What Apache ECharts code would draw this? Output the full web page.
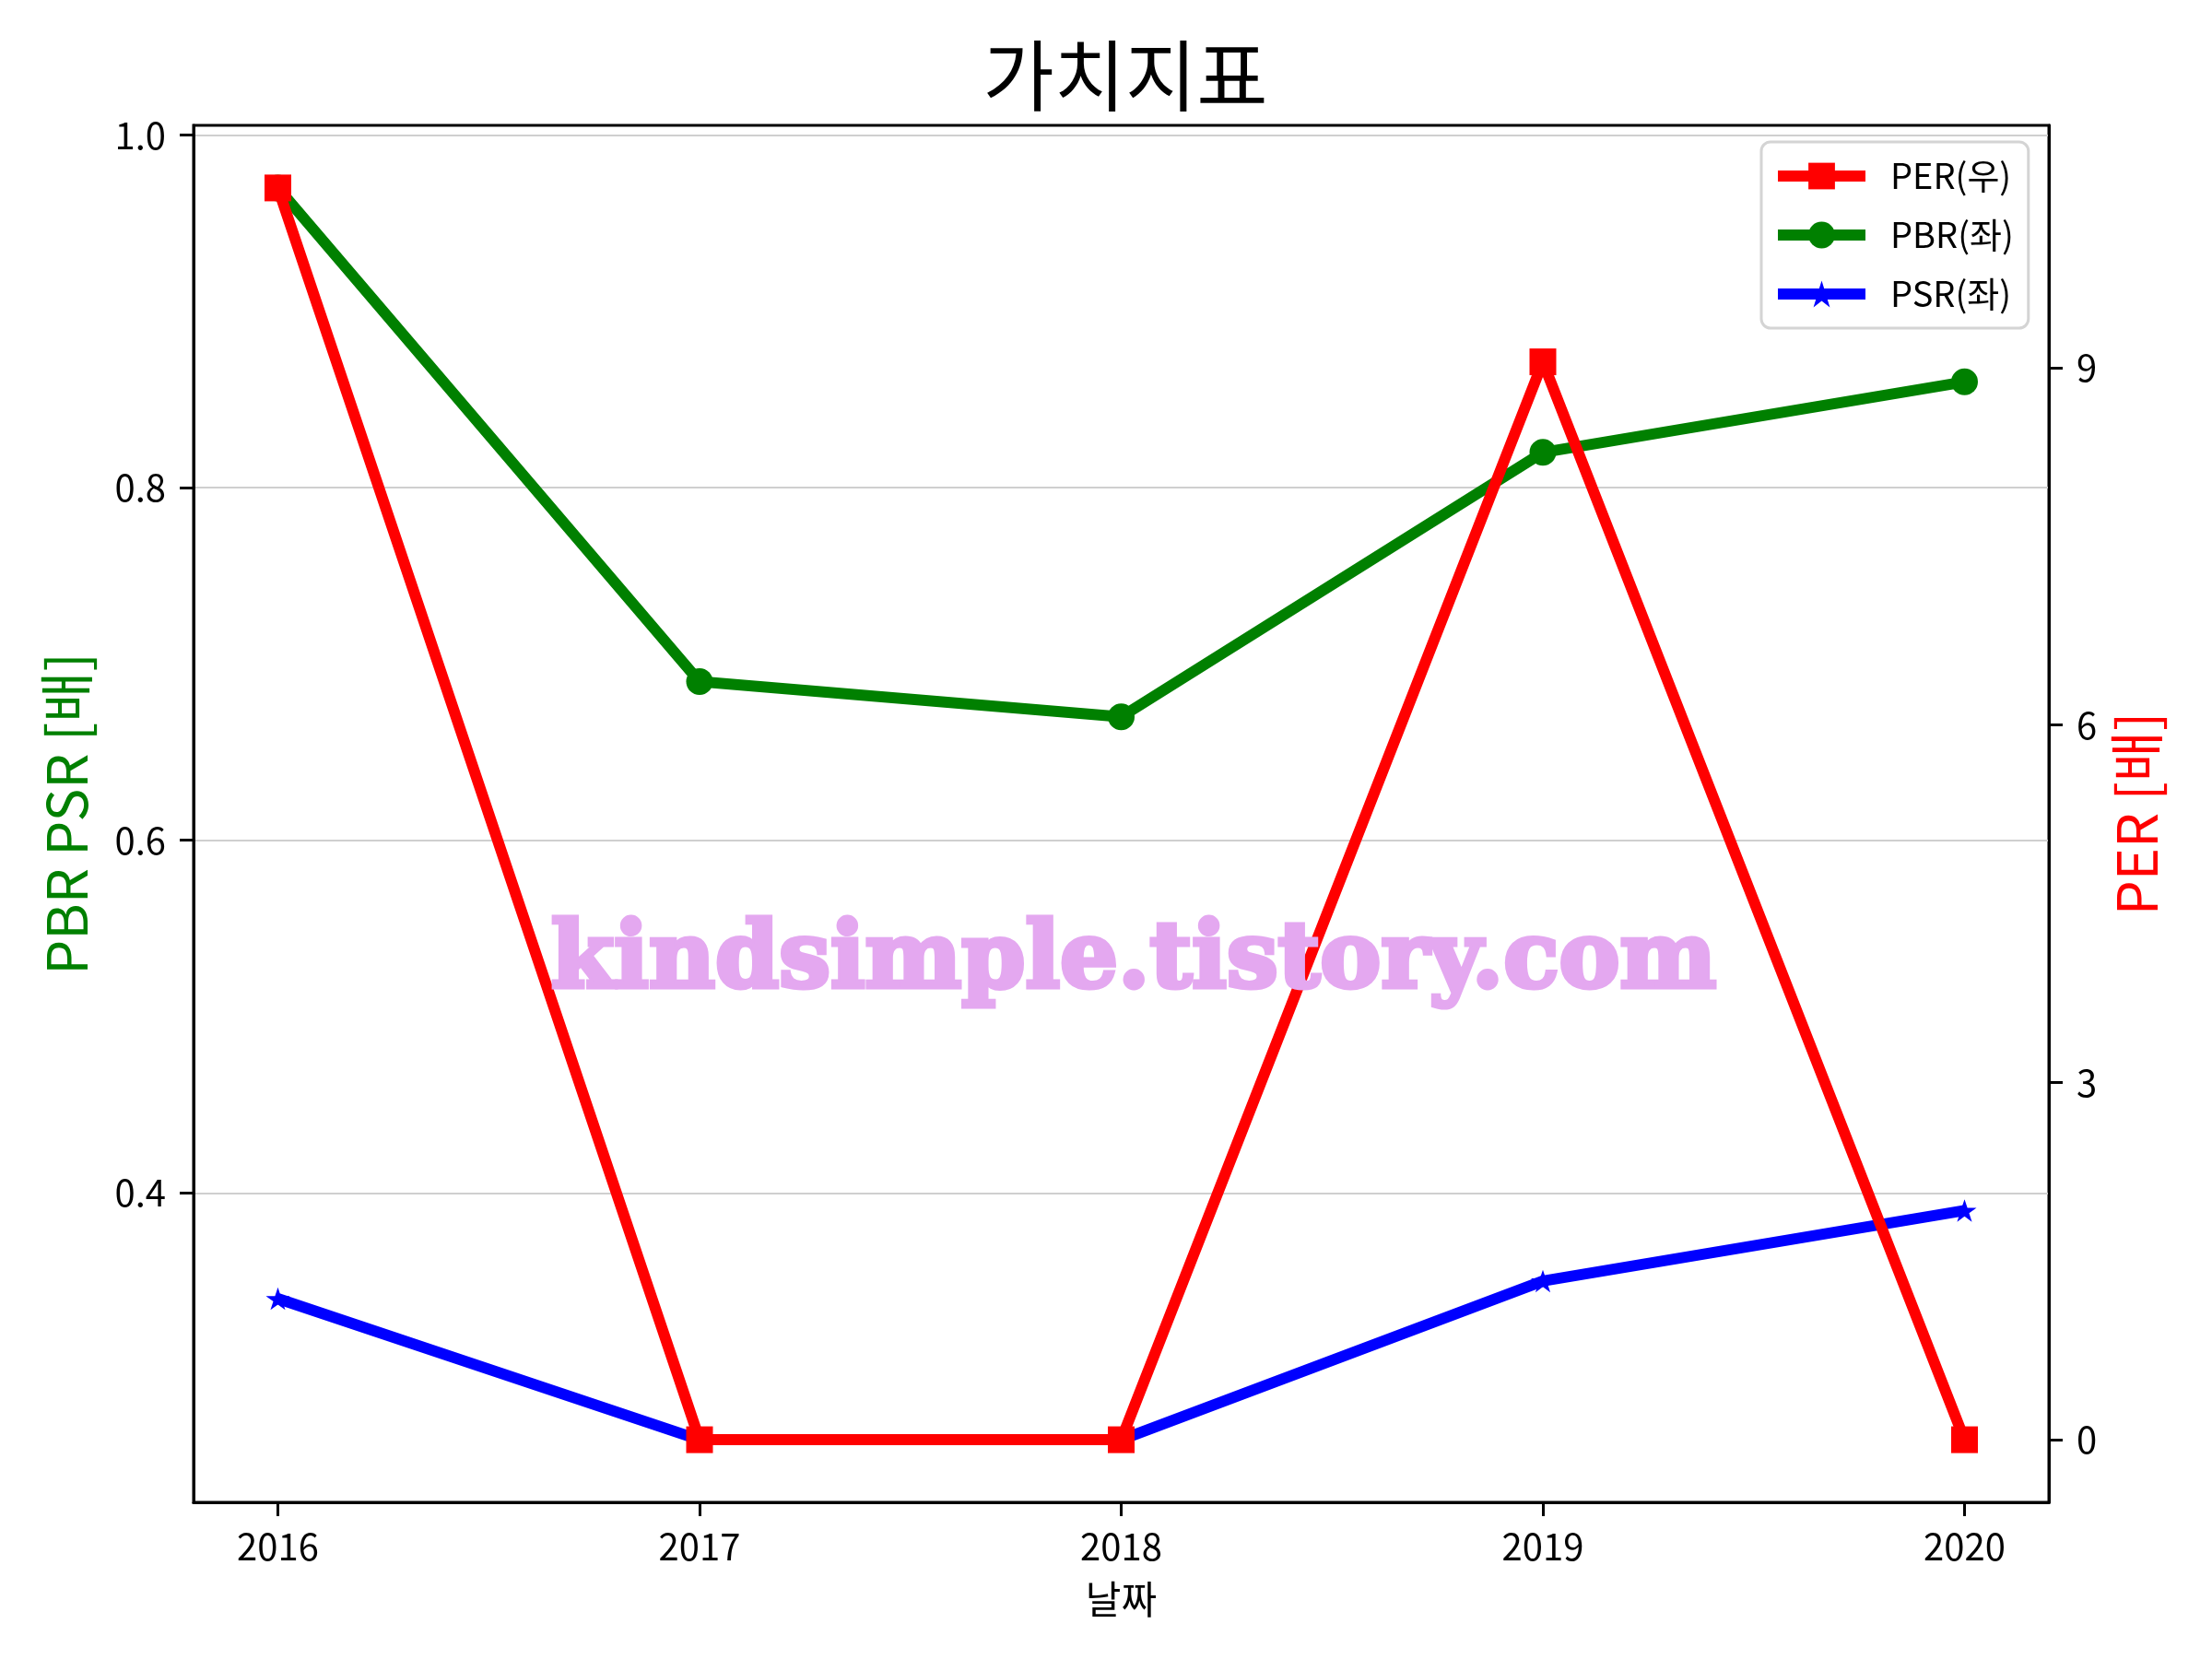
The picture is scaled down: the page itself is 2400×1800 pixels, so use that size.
<!DOCTYPE html>
<html>
<head>
<meta charset="utf-8">
<script src="https://cdn.jsdelivr.net/npm/echarts@6/dist/echarts.min.js"></script>
<style>
html,body{margin:0;padding:0;background:#fff;}
#chart{width:2400px;height:1800px;}
</style>
</head>
<body>
<div id="chart"></div>
<script>
// ---- data ----
const years = [2016, 2017, 2018, 2019, 2020];
const perValues = [10.51, 0, 0, 9.05, 0];
const pbrValues = [0.97, 0.69, 0.67, 0.82, 0.86];
const psrValues = [0.34, 0.26, 0.26, 0.35, 0.39];
const leftTicks = [0.4, 0.6, 0.8, 1.0];
const rightTicks = [0, 3, 6, 9];
const titleText = '가치지표';
const xName = '날짜';
const leftName = 'PBR PSR [배]';
const rightName = 'PER [배]';
const watermark = 'kindsimple.tistory.com';

const FONT = '"Noto Sans CJK KR", "Noto Sans", sans-serif';
const STAR = 'path://M50,0 L61.8,35.1 L98.9,35.1 L68.8,56.8 L80.3,91.9 L50,70.1 L19.7,91.9 L31.2,56.8 L1.1,35.1 L38.2,35.1 Z';

function pairs(vals){ return years.map((y,i)=>[y, vals[i]]); }
function padRange(vals){
  const mn = Math.min(...vals), mx = Math.max(...vals), r = mx - mn;
  return [mn - 0.05*r, mx + 0.05*r];
}
const leftRange = padRange(pbrValues.concat(psrValues));
const rightRange = padRange(perValues);
const xRange = padRange(years);

const chart = echarts.init(document.getElementById('chart'), null, {renderer:'canvas'});
const axisLineStyle = {color:'#000', width:3};
chart.setOption({
  backgroundColor:'#fff',
  animation:false,
  title:{
    text:titleText, left:1216, top:35, textAlign:'center',
    textStyle:{fontFamily:FONT, fontSize:84, fontWeight:'normal', color:'#000'}
  },
  grid:{left:210, right:177, top:136, bottom:170, show:true, borderColor:'#000', borderWidth:3, backgroundColor:'transparent'},
  legend:{
    orient:'vertical', left:1911, top:154,
    data:['PER(우)','PBR(좌)','PSR(좌)'],
    itemWidth:95, itemHeight:36, itemGap:26,
    padding:[18,16,18,12],
    borderColor:'#d4d4d4', borderWidth:3, borderRadius:10,
    backgroundColor:'rgba(255,255,255,0.85)',
    lineStyle:{width:'inherit'},
    textStyle:{fontFamily:FONT, fontSize:38, color:'#000', padding:[0,0,0,22]}
  },
  graphic:[{
    type:'text', z:50, silent:true,
    x:1230, y:1045,
    style:{text:watermark, font:'bold 99px "DejaVu Serif"', fill:'rgb(228,168,240)', stroke:'rgb(228,168,240)', lineWidth:5, align:'center', verticalAlign:'middle'}
  }],
  xAxis:{
    type:'value', min:xRange[0], max:xRange[1],
    name:xName, nameLocation:'middle', nameGap:84,
    nameTextStyle:{fontFamily:FONT, fontSize:42, color:'#000'},
    axisLine:{show:true, onZero:false, lineStyle:axisLineStyle},
    axisTick:{show:true, length:15, lineStyle:{color:'#000', width:3}, customValues:years},
    axisLabel:{customValues:years, margin:28, fontFamily:FONT, fontSize:40, color:'#000', formatter:v=>String(Math.round(v))},
    splitLine:{show:false}
  },
  yAxis:[{
    type:'value', min:leftRange[0], max:leftRange[1], position:'left',
    name:leftName, nameLocation:'middle', nameGap:108, nameRotate:90,
    nameTextStyle:{fontFamily:FONT, fontSize:60, color:'#008000'},
    axisLine:{show:true, onZero:false, lineStyle:axisLineStyle},
    axisTick:{show:true, length:15, lineStyle:{color:'#000', width:3}, customValues:leftTicks},
    axisLabel:{customValues:leftTicks, margin:30, fontFamily:FONT, fontSize:40, color:'#000', formatter:v=>v.toFixed(1)},
    splitLine:{show:true, lineStyle:{color:'#cfcfcf', width:2}}
  },{
    type:'value', min:rightRange[0], max:rightRange[1], position:'right',
    name:rightName, nameLocation:'middle', nameGap:65, nameRotate:90,
    nameTextStyle:{fontFamily:FONT, fontSize:60, color:'#ff0000'},
    axisLine:{show:true, onZero:false, lineStyle:axisLineStyle},
    axisTick:{show:true, length:15, lineStyle:{color:'#000', width:3}, customValues:rightTicks},
    axisLabel:{customValues:rightTicks, margin:30, fontFamily:FONT, fontSize:40, color:'#000', formatter:v=>String(Math.round(v))},
    splitLine:{show:false}
  }],
  series:[{
    name:'PBR(좌)', type:'line', yAxisIndex:0, data:pairs(pbrValues),
    symbol:'circle', symbolSize:29, showAllSymbol:true,
    lineStyle:{color:'#008000', width:12, join:'round'}, itemStyle:{color:'#008000'}, z:2
  },{
    name:'PSR(좌)', type:'line', yAxisIndex:0, data:pairs(psrValues),
    symbol:STAR, symbolSize:26, symbolKeepAspect:true, showAllSymbol:true,
    lineStyle:{color:'#0000ff', width:12, join:'round'}, itemStyle:{color:'#0000ff'}, z:3
  },{
    name:'PER(우)', type:'line', yAxisIndex:1, data:pairs(perValues),
    symbol:'rect', symbolSize:29, showAllSymbol:true,
    lineStyle:{color:'#ff0000', width:12, join:'round'}, itemStyle:{color:'#ff0000'}, z:4
  }]
});
</script>
</body>
</html>
